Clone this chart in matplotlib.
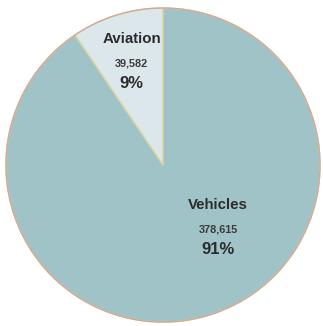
import matplotlib
matplotlib.use('Agg')
import matplotlib.pyplot as plt

categories = ['Aviation', 'Vehicles']
values = [39582, 378615]
percents = ['9%', '91%']
colors = ['#dce7ec', '#9fc3c7']

fig = plt.figure(figsize=(3.23, 3.26), dpi=100)
ax = fig.add_axes([0, 0, 1, 1])
wedges, _ = ax.pie(values, startangle=90, counterclock=True, colors=colors,
                   radius=1.0, wedgeprops={'edgecolor': '#e2d6a0', 'linewidth': 1.0})
# reddish outer rim
circle = plt.Circle((0, 0), 1.0, fill=False, edgecolor='#d3a89a', linewidth=1.0)
ax.add_patch(circle)
ax.set_xlim(-1.038, 1.019)
ax.set_ylim(-1.025, 1.051)
ax.set_aspect('equal')
ax.axis('off')

pos = [(-0.2, 0.80), (0.35, -0.255)]
for name, v, p, (x, y) in zip(categories, values, percents, pos):
    ax.text(x, y, name, ha='center', va='center', fontsize=10.8, fontweight='bold',
            family='Liberation Sans', color='#2b2b2b')
    ax.text(x, y - 0.155, f'{v:,}', ha='center', va='center', fontsize=7.8,
            fontweight='bold', family='Liberation Sans', color='#3a3a3a')
    ax.text(x, y - 0.28, p, ha='center', va='center', fontsize=12, fontweight='bold',
            family='Liberation Sans', color='#2b2b2b')

fig.savefig('out.png', dpi=100)
